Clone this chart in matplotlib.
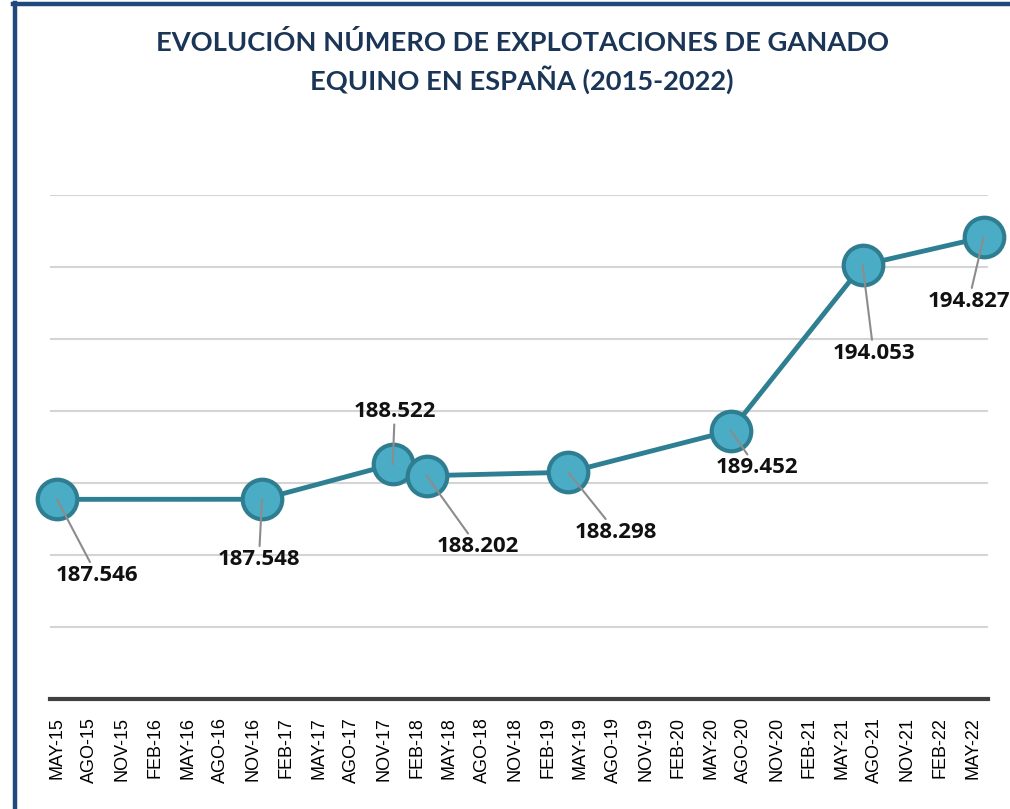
import numpy as np
import matplotlib.pyplot as plt
from matplotlib.lines import Line2D

# eje x: meses desde MAY-15, etiquetas trimestrales
tick_labels = ['MAY-15', 'AGO-15', 'NOV-15', 'FEB-16', 'MAY-16', 'AGO-16', 'NOV-16',
               'FEB-17', 'MAY-17', 'AGO-17', 'NOV-17', 'FEB-18', 'MAY-18', 'AGO-18',
               'NOV-18', 'FEB-19', 'MAY-19', 'AGO-19', 'NOV-19', 'FEB-20', 'MAY-20',
               'AGO-20', 'NOV-20', 'FEB-21', 'MAY-21', 'AGO-21', 'NOV-21', 'FEB-22',
               'MAY-22']
tick_months = [3 * i for i in range(len(tick_labels))]

# fechas de los datos (meses desde MAY-15) y numero de explotaciones
x_months = [0, 18.8, 30.8, 33.9, 46.9, 61.8, 73.9, 85.0]
explotaciones = [187546, 187548, 188522, 188202, 188298, 189452, 194053, 194827]

# desplazamiento de cada etiqueta (pixeles)
label_offsets = [(40, -76), (-3, -60), (2, 53), (51, -71), (48, -60), (26, -37),
                 (11, -88), (-15, -64)]

line_color = '#2f7f93'
fill_color = '#4bacc6'
edge_color = '#2e7d90'

fig = plt.figure(figsize=(10.1, 8.09), dpi=100)
W, H = 1010, 809
ax = fig.add_axes([50 / W, 1 - 699 / H, (988 - 50) / W, (699 - 195) / H])

ax.plot(x_months, explotaciones, color=line_color, linewidth=3.5, zorder=3,
        solid_capstyle='round', clip_on=False)
ax.plot(x_months, explotaciones, linestyle='none', marker='o', markersize=28.5,
        markerfacecolor=fill_color, markeredgecolor=edge_color,
        markeredgewidth=3, zorder=4, clip_on=False)

for xm, v, off in zip(x_months, explotaciones, label_offsets):
    txt = f"{v:,}".replace(",", ".")
    ax.annotate(txt, xy=(xm, v), xytext=off, textcoords='offset pixels',
                ha='center', va='center', fontsize=16, fontweight='bold',
                family='Open Sans', color='#111111', zorder=6,
                annotation_clip=False,
                arrowprops=dict(arrowstyle='-', color='#8c8c8c', lw=1.5,
                                shrinkA=0, shrinkB=0))

ax.set_xlim(-0.64, 85.4)
ax.set_ylim(182000, 196000)
ax.set_yticks(np.arange(184000, 196001, 2000))
ax.yaxis.grid(True, color='#d4d4d4', linewidth=1.5)
ax.set_axisbelow(True)
ax.tick_params(axis='y', left=False, labelleft=False)

ax.set_xticks(tick_months)
ax.set_xticklabels(tick_labels, rotation=90, fontsize=13, family='Liberation Sans')
ax.tick_params(axis='x', length=0, pad=13)

for s in ['top', 'right', 'left']:
    ax.spines[s].set_visible(False)
ax.spines['bottom'].set_color('#404040')
ax.spines['bottom'].set_linewidth(3)
ax.spines['bottom'].set_zorder(2)

fig.text(522 / W, 1 - 62 / H,
         'EVOLUCIÓN NÚMERO DE EXPLOTACIONES DE GANADO\nEQUINO EN ESPAÑA (2015-2022)',
         ha='center', va='center', fontsize=19.6, fontweight='bold', family='Lato',
         color='#1a3556', linespacing=1.4)

# marco del grafico
fig.add_artist(Line2D([14.5 / W, 14.5 / W], [0, 1 - 3 / H], transform=fig.transFigure,
                      color='#1f497d', linewidth=3.2))
fig.add_artist(Line2D([13 / W, 1], [1 - 3.5 / H, 1 - 3.5 / H], transform=fig.transFigure,
                      color='#1f497d', linewidth=3.2))

fig.savefig('out.png', dpi=100)
